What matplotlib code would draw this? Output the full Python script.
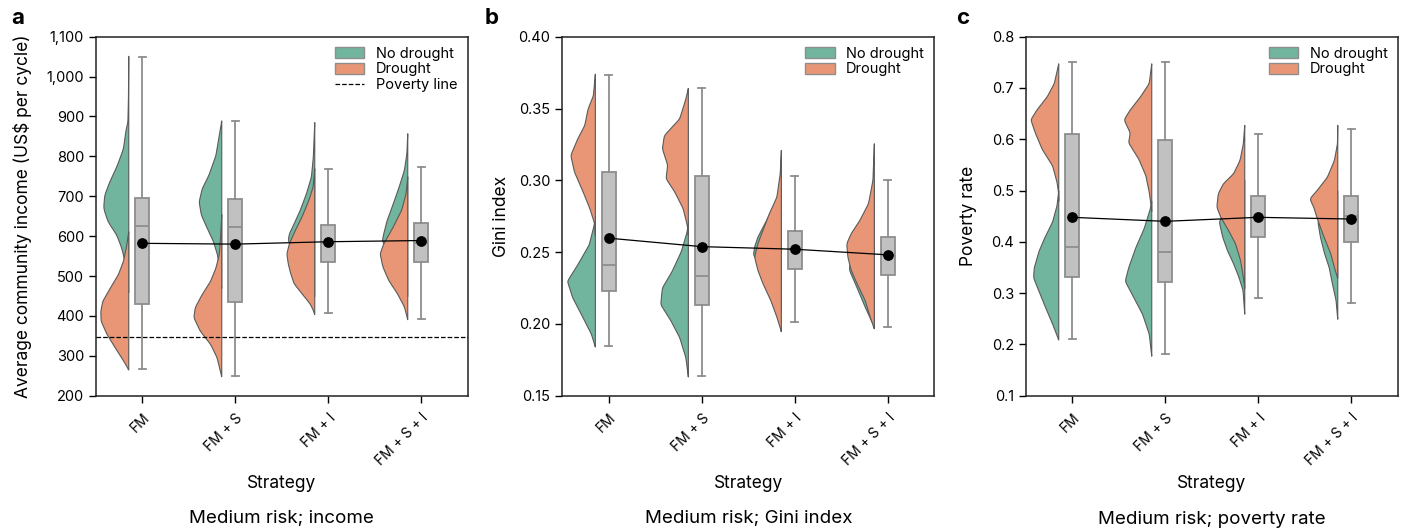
import numpy as np
import matplotlib
matplotlib.use('Agg')
import matplotlib.pyplot as plt
from matplotlib.patches import Patch
from matplotlib.lines import Line2D
from matplotlib.ticker import FuncFormatter

plt.rcParams['font.family'] = ['Inter', 'DejaVu Sans']

strategies = ['FM', 'FM + S', 'FM + I', 'FM + S + I']

# ---- panel a: income (violin profiles: value, relative density) ----
inc_nd_y = [[1052, 950, 886, 870, 820, 778, 737, 704, 671, 637, 604, 571, 542, 500, 460],
            [890, 853, 803, 754, 720, 687, 654, 621, 588, 554, 510, 470],
            [886, 800, 749, 707, 666, 632, 607, 590, 560, 530, 490, 450],
            [858, 808, 766, 724, 682, 640, 607, 590, 560, 520, 480, 450]]
inc_nd_d = [[0, 0.01, 0.03, 0.09, 0.19, 0.41, 0.68, 0.86, 0.90, 0.74, 0.43, 0.25, 0.15, 0.07, 0],
            [0, 0.09, 0.21, 0.46, 0.70, 0.81, 0.73, 0.52, 0.30, 0.15, 0.06, 0],
            [0, 0.05, 0.12, 0.30, 0.52, 0.74, 0.91, 0.95, 0.75, 0.45, 0.15, 0],
            [0, 0.03, 0.12, 0.31, 0.52, 0.74, 0.86, 0.91, 0.70, 0.40, 0.12, 0]]
inc_d_y = [[612, 575, 538, 505, 471, 438, 413, 388, 355, 322, 289, 266],
           [655, 600, 554, 521, 488, 455, 422, 397, 363, 330, 297, 249],
           [770, 724, 691, 649, 615, 582, 557, 532, 507, 482, 457, 432, 415, 405],
           [750, 707, 666, 624, 582, 557, 524, 490, 457, 424, 392]]
inc_d_d = [[0, 0.08, 0.19, 0.37, 0.66, 0.93, 1.00, 0.99, 0.78, 0.49, 0.19, 0],
           [0, 0.04, 0.09, 0.21, 0.40, 0.70, 0.95, 1.00, 0.77, 0.40, 0.17, 0],
           [0, 0.06, 0.21, 0.46, 0.70, 0.91, 1.00, 0.95, 0.86, 0.74, 0.46, 0.17, 0.05, 0],
           [0, 0.06, 0.22, 0.52, 0.86, 0.99, 0.89, 0.68, 0.37, 0.12, 0]]
inc_box = [(268, 430, 625, 696, 1050), (249, 434, 624, 692, 889),
           (407, 536, 584, 628, 768), (392, 536, 584, 632, 774)]
inc_mean = [582, 580, 586, 589]
poverty_line = 347

# ---- panel b: Gini index ----
gini_nd_y = [[0.275, 0.2692, 0.2554, 0.2415, 0.230, 0.2185, 0.2046, 0.1931, 0.1843],
             [0.272, 0.2646, 0.2508, 0.2369, 0.2254, 0.2138, 0.2023, 0.1908, 0.1769, 0.1634],
             [0.310, 0.290, 0.2794, 0.2701, 0.2608, 0.2538, 0.2481, 0.240, 0.230, 0.220, 0.210],
             [0.300, 0.280, 0.2632, 0.250, 0.2376, 0.2237, 0.2121, 0.2028, 0.198]]
gini_nd_d = [[0, 0.04, 0.22, 0.63, 1.00, 0.81, 0.44, 0.14, 0],
             [0, 0.04, 0.25, 0.58, 0.93, 0.99, 0.62, 0.31, 0.09, 0],
             [0, 0.08, 0.34, 0.59, 0.84, 0.96, 1.00, 0.70, 0.40, 0.15, 0],
             [0, 0.15, 0.60, 0.85, 0.89, 0.58, 0.33, 0.11, 0]]
gini_d_y = [[0.3742, 0.3592, 0.350, 0.3385, 0.3292, 0.3177, 0.3062, 0.2923, 0.2808, 0.2692, 0.262],
            [0.3643, 0.3569, 0.3431, 0.3315, 0.3223, 0.3108, 0.3015, 0.2923, 0.2808, 0.2692, 0.262],
            [0.3211, 0.3049, 0.2886, 0.2771, 0.2655, 0.2562, 0.2469, 0.2376, 0.2284, 0.2167, 0.2051, 0.195],
            [0.3258, 0.3003, 0.284, 0.2724, 0.2632, 0.2562, 0.2469, 0.2376, 0.2284, 0.2167, 0.2051, 0.197]]
gini_d_d = [[0, 0.07, 0.26, 0.38, 0.63, 0.88, 0.75, 0.44, 0.20, 0.01, 0],
            [0, 0.09, 0.31, 0.86, 0.93, 0.74, 0.80, 0.49, 0.19, 0.04, 0],
            [0, 0.04, 0.16, 0.43, 0.66, 0.84, 0.96, 0.84, 0.66, 0.38, 0.16, 0],
            [0, 0.05, 0.21, 0.52, 0.83, 0.99, 0.95, 0.83, 0.62, 0.33, 0.15, 0]]
gini_box = [(0.1843, 0.2232, 0.2409, 0.306, 0.3733), (0.1634, 0.2133, 0.2337, 0.3033, 0.3645),
            (0.2014, 0.2383, 0.252, 0.2646, 0.3033), (0.1975, 0.2341, 0.248, 0.2606, 0.3003)]
gini_mean = [0.2597, 0.2538, 0.2520, 0.2481]

# ---- panel c: poverty rate ----
pov_nd_y = [[0.50, 0.4718, 0.4397, 0.4076, 0.3819, 0.3497, 0.3305, 0.3048, 0.2726, 0.2405, 0.2097],
            [0.48, 0.4654, 0.4269, 0.3883, 0.3497, 0.324, 0.2919, 0.2598, 0.2212, 0.178],
            [0.52, 0.50, 0.48, 0.46, 0.4393, 0.41, 0.384, 0.3581, 0.332, 0.306, 0.26],
            [0.50, 0.48, 0.46, 0.4393, 0.41, 0.3776, 0.3515, 0.3191, 0.2866, 0.25]]
pov_nd_d = [[0, 0.06, 0.22, 0.51, 0.71, 0.88, 0.90, 0.71, 0.47, 0.22, 0],
            [0, 0.05, 0.27, 0.58, 0.83, 0.95, 0.64, 0.33, 0.09, 0],
            [0, 0.11, 0.37, 0.74, 0.91, 0.79, 0.62, 0.40, 0.21, 0.06, 0],
            [0, 0.22, 0.52, 0.71, 0.62, 0.47, 0.31, 0.19, 0.06, 0]]
pov_d_y = [[0.748, 0.7096, 0.684, 0.6582, 0.639, 0.6132, 0.5811, 0.549, 0.5168, 0.4976, 0.48],
           [0.748, 0.7096, 0.684, 0.6582, 0.639, 0.6132, 0.594, 0.5618, 0.5297, 0.4976, 0.4783, 0.46],
           [0.628, 0.592, 0.5596, 0.5336, 0.5141, 0.4946, 0.4685, 0.449, 0.423, 0.3971, 0.3646, 0.332, 0.31],
           [0.628, 0.592, 0.5596, 0.527, 0.501, 0.4848, 0.4685, 0.4425, 0.41, 0.3776, 0.345, 0.33]]
pov_d_d = [[0, 0.16, 0.41, 0.78, 1.00, 0.84, 0.59, 0.22, 0.06, 0.01, 0],
           [0, 0.09, 0.40, 0.77, 0.99, 0.77, 0.83, 0.46, 0.21, 0.09, 0.04, 0],
           [0, 0.05, 0.17, 0.40, 0.77, 0.95, 1.00, 0.86, 0.58, 0.33, 0.15, 0.05, 0],
           [0, 0.01, 0.12, 0.37, 0.74, 1.00, 0.86, 0.71, 0.49, 0.25, 0.09, 0]]
pov_box = [(0.21, 0.3308, 0.39, 0.6097, 0.75), (0.1807, 0.321, 0.38, 0.5992, 0.75),
           (0.29, 0.4094, 0.448, 0.49, 0.61), (0.28, 0.3997, 0.4498, 0.49, 0.62)]
pov_mean = [0.4478, 0.440, 0.4478, 0.4445]

green = '#72b59f'
orange = '#e89675'
edge = '#5a5a5a'
boxgray = '#c1c1c1'
boxedge = '#8e8e8e'

offset = 0.15
vscale = 0.30


def smooth(y, d):
    # smooth outline through the read profile points (drawing only)
    y = np.asarray(y, float)
    d = np.asarray(d, float)
    o = np.argsort(y)
    yy = np.linspace(y.min(), y.max(), 300)
    dd = np.interp(yy, y[o], d[o])
    k = np.exp(-0.5 * (np.arange(-8, 9) / 3.0) ** 2)
    k /= k.sum()
    dd = np.convolve(np.pad(dd, 8, mode='edge'), k, mode='valid')
    return yy, dd


def panel(ax, nd_y, nd_d, d_y, d_d, box, means):
    for i in range(4):
        base = i - offset
        for ys, ds, col in [(nd_y[i], nd_d[i], green), (d_y[i], d_d[i], orange)]:
            yy, dd = smooth(ys, ds)
            ax.fill_betweenx(yy, base - dd * vscale, base, facecolor=col,
                             edgecolor=edge, linewidth=0.8, zorder=1)
    stats = [dict(whislo=b[0], q1=b[1], med=b[2], q3=b[3], whishi=b[4], fliers=[])
             for b in box]
    ax.bxp(stats, positions=range(4), widths=0.15, patch_artist=True, showfliers=False,
           manage_ticks=False,
           boxprops=dict(facecolor=boxgray, edgecolor=boxedge, linewidth=1.3),
           whiskerprops=dict(color=boxedge, linewidth=1.3),
           capprops=dict(color=boxedge, linewidth=1.3),
           medianprops=dict(color=boxedge, linewidth=1.3), zorder=2)
    ax.plot(range(4), means, color='black', linewidth=0.9, zorder=4)
    ax.scatter(range(4), means, s=45, color='black', zorder=5)
    ax.set_xlim(-0.5, 3.5)
    ax.set_xticks(range(4))
    ax.set_xticklabels(strategies, rotation=45, ha='right', rotation_mode='anchor', fontsize=10)
    ax.tick_params(axis='x', pad=6)
    ax.tick_params(direction='out', length=5, width=1, labelsize=10.5)
    ax.tick_params(axis='x', labelsize=10)
    for s in ax.spines.values():
        s.set_linewidth(1.1)
        s.set_color('#222222')


fig = plt.figure(figsize=(14.07, 5.28), dpi=100)
W, H = 1407, 528
lefts = [95.7, 562.3, 1025.7]
axes = [fig.add_axes([l / W, (H - 395.7) / H, 372 / W, 359 / H]) for l in lefts]

ax = axes[0]
panel(ax, inc_nd_y, inc_nd_d, inc_d_y, inc_d_d, inc_box, inc_mean)
ax.axhline(poverty_line, color='black', linestyle='--', linewidth=0.9, zorder=3)
ax.set_ylim(200, 1100)
ax.set_yticks(range(200, 1101, 100))
ax.yaxis.set_major_formatter(FuncFormatter(lambda v, p: f'{v:,.0f}'))
ax.set_ylabel('Average community income (US\\$ per cycle)', fontsize=12.5)
ax.yaxis.set_label_coords(-0.17, 0.5)

ax = axes[1]
panel(ax, gini_nd_y, gini_nd_d, gini_d_y, gini_d_d, gini_box, gini_mean)
ax.set_ylim(0.15, 0.40)
ax.set_yticks(np.arange(0.15, 0.401, 0.05))
ax.yaxis.set_major_formatter(FuncFormatter(lambda v, p: f'{v:.2f}'))
ax.set_ylabel('Gini index', fontsize=12.5)
ax.yaxis.set_label_coords(-0.14, 0.5)

ax = axes[2]
panel(ax, pov_nd_y, pov_nd_d, pov_d_y, pov_d_d, pov_box, pov_mean)
ax.set_ylim(0.1, 0.8)
ax.set_yticks(np.arange(0.1, 0.801, 0.1))
ax.yaxis.set_major_formatter(FuncFormatter(lambda v, p: f'{v:.1f}'))
ax.set_ylabel('Poverty rate', fontsize=12.5)
ax.yaxis.set_label_coords(-0.13, 0.5)

titles = ['Medium risk; income', 'Medium risk; Gini index', 'Medium risk; poverty rate']
letters = ['a', 'b', 'c']
letter_x = [18, 492, 963]
for i, ax in enumerate(axes):
    handles = [Patch(facecolor=green, edgecolor=boxedge, label='No drought'),
               Patch(facecolor=orange, edgecolor=boxedge, label='Drought')]
    if i == 0:
        handles.append(Line2D([], [], color='black', linestyle='--', linewidth=0.9,
                              label='Poverty line'))
    ax.legend(handles=handles, loc='upper right', frameon=False, fontsize=10.5,
              labelspacing=0.1, handlelength=2.0, handleheight=0.8,
              borderaxespad=0.3, handletextpad=0.8)
    cx = (lefts[i] + 186) / W
    fig.text(cx, 1 - 484 / H, 'Strategy', ha='center', va='center', fontsize=12.5)
    fig.text(cx, 1 - 519 / H, titles[i], ha='center', va='center', fontsize=13.5)
    fig.text(letter_x[i] / W, 1 - 18 / H, letters[i], ha='center', va='center',
             fontsize=16, fontweight='bold')

fig.savefig('out.png', dpi=100)
